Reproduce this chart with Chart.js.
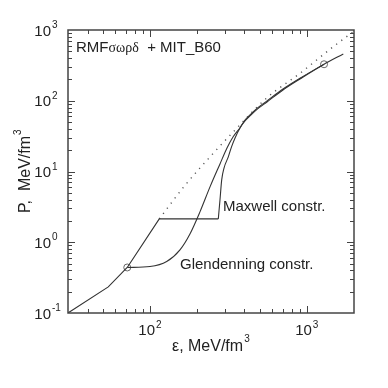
<!DOCTYPE html>
<html>
<head>
<meta charset="utf-8">
<script src="https://cdn.jsdelivr.net/npm/chart.js@4.4.1/dist/chart.umd.min.js"></script>
<style>
  html, body { margin: 0; padding: 0; background: #fff; }
  #wrap { width: 388px; height: 388px; position: relative; }
</style>
</head>
<body>
<div id="wrap"><canvas id="grafico"></canvas></div>
<script>
// ---- dados ----
// ramo hadronico abaixo do primeiro circulo
const hadronE = [30, 54.2, 71.6];
const hadronP = [0.1, 0.234, 0.44];

// construcao de Maxwell: trecho reto (hadron -> patamar)
const maxStepE = [71.6, 114.6, 272.7];
const maxStepP = [0.44, 2.14, 2.14];
// construcao de Maxwell: subida e fase de quarks
const maxwellE = [272.7, 279.5, 286.6, 296.5, 315.8, 331.1, 348.7, 375, 403.6, 434.3, 481.4, 557.5, 705, 904.8, 1288, 1709];
const maxwellP = [2.14, 3.97, 7.61, 11.2, 16.1, 22.3, 29.8, 41.3, 51.8, 61.0, 75.4, 96.2, 142, 203, 328, 458];

// construcao de Glendenning
const glendE = [71.6, 100, 127.8, 155.3, 179.8, 208.3, 241.4, 279.5, 309.8, 338.3, 375, 403.6, 434.3, 481.4, 557.5, 705, 904.8, 1288];
const glendP = [0.44, 0.454, 0.534, 0.781, 1.31, 2.69, 6.06, 12.8, 21.5, 30.8, 41.6, 53.4, 63.1, 78.0, 99.6, 146.3, 208, 328];

// continuacao hadronica (pontilhada)
const dottedE = [114.6, 164.8, 253.3, 339.9, 555, 904.8, 1476, 1980];
const dottedP = [2.14, 6.12, 18.1, 36.3, 109.5, 244.5, 581, 946];

// circulos abertos
const markE = [71.6, 1288];
const markP = [0.44, 328];

// eixos
const xMin = 30, xMax = 2000;
const yMin = 0.1, yMax = 1000;
const xMajor = [2, 3];          // expoentes com rotulo
const yMajor = [-1, 0, 1, 2, 3];

const pts = (xs, ys) => xs.map((x, i) => ({ x, y: ys[i] }));

const COR = '#333';
const FONTE = '"Liberation Sans", Arial, sans-serif';

// ---- moldura, marcas e textos ----
const desenhoExtra = {
  id: 'desenhoExtra',
  afterDraw(chart) {
    const { ctx, chartArea: a, scales: { x, y } } = chart;
    ctx.save();

    // moldura
    ctx.strokeStyle = '#444';
    ctx.lineWidth = 1.5;
    ctx.strokeRect(a.left, a.top, a.right - a.left, a.bottom - a.top);

    // marcas x (baixo e cima, para dentro)
    ctx.lineWidth = 1;
    ctx.beginPath();
    for (let e = 1; e <= 3; e++) {
      for (let m = 1; m <= 9; m++) {
        const v = m * Math.pow(10, e);
        if (v <= xMin || v >= xMax) continue;
        const px = Math.round(x.getPixelForValue(v)) + 0.5;
        const len = m === 1 ? 7 : 4;
        ctx.moveTo(px, a.bottom); ctx.lineTo(px, a.bottom - len);
        ctx.moveTo(px, a.top); ctx.lineTo(px, a.top + len);
      }
    }
    // marcas y (esquerda e direita)
    for (let e = -1; e <= 2; e++) {
      for (let m = 1; m <= 9; m++) {
        const v = m * Math.pow(10, e);
        if (v <= yMin || v >= yMax) continue;
        const py = Math.round(y.getPixelForValue(v)) + 0.5;
        const len = m === 1 ? 7 : 4;
        ctx.moveTo(a.left, py); ctx.lineTo(a.left + len, py);
        ctx.moveTo(a.right, py); ctx.lineTo(a.right - len, py);
      }
    }
    ctx.stroke();

    ctx.fillStyle = '#222';
    // rotulos x
    xMajor.forEach(e => {
      const px = x.getPixelForValue(Math.pow(10, e));
      ctx.font = '15px ' + FONTE;
      const w1 = ctx.measureText('10').width;
      ctx.font = '10px ' + FONTE;
      const w2 = ctx.measureText(String(e)).width;
      const x0 = px - (w1 + w2 + 1) / 2;
      ctx.font = '15px ' + FONTE;
      ctx.textAlign = 'left';
      ctx.fillText('10', x0, a.bottom + 22);
      ctx.font = '10px ' + FONTE;
      ctx.fillText(String(e), x0 + w1 + 1, a.bottom + 15);
    });
    // rotulos y
    yMajor.forEach(e => {
      const py = y.getPixelForValue(Math.pow(10, e));
      ctx.font = '15px ' + FONTE;
      ctx.textAlign = 'right';
      ctx.fillText('10', 51, py + 5.5);
      ctx.font = '10px ' + FONTE;
      ctx.textAlign = 'left';
      ctx.fillText(e < 0 ? '-' + Math.abs(e) : String(e), 52, py - 2);
    });

    // titulo x
    ctx.font = '16px ' + FONTE;
    ctx.textAlign = 'left';
    ctx.fillText('\u03b5, MeV/fm', 172, 351);
    const wx = ctx.measureText('\u03b5, MeV/fm').width;
    ctx.font = '10px ' + FONTE;
    ctx.fillText('3', 172 + wx + 1, 342);

    // titulo y
    ctx.save();
    ctx.translate(30, 213);
    ctx.rotate(-Math.PI / 2);
    ctx.font = '16px ' + FONTE;
    ctx.fillText('P,  MeV/fm', 0, 0);
    const wy = ctx.measureText('P,  MeV/fm').width;
    ctx.font = '10px ' + FONTE;
    ctx.fillText('3', wy + 1, -9);
    ctx.restore();

    // legenda superior
    ctx.font = '15px ' + FONTE;
    ctx.fillText('RMF', 76, 52);
    let w = ctx.measureText('RMF').width;
    ctx.font = '14px "Liberation Serif", "Times New Roman", serif';
    ctx.fillText('\u03c3\u03c9\u03c1\u03b4', 76 + w, 52);
    w += ctx.measureText('\u03c3\u03c9\u03c1\u03b4').width;
    ctx.font = '15px ' + FONTE;
    ctx.fillText('  + MIT_B60', 76 + w, 52);

    // rotulos das curvas
    ctx.fillText('Maxwell constr.', 223, 210.5);
    ctx.fillText('Glendenning constr.', 180, 269);

    ctx.restore();
  }
};

const linha = (label, data, extra) => Object.assign({
  label, data,
  borderColor: COR,
  borderWidth: 1.1,
  pointRadius: 0,
  cubicInterpolationMode: 'monotone',
  fill: false
}, extra);

new Chart(document.getElementById('grafico'), {
  type: 'line',
  data: {
    datasets: [
      linha('hadron', pts(hadronE, hadronP), { cubicInterpolationMode: 'default', tension: 0 }),
      linha('Maxwell patamar', pts(maxStepE, maxStepP), { cubicInterpolationMode: 'default', tension: 0 }),
      linha('Maxwell', pts(maxwellE, maxwellP), {}),
      linha('Glendenning', pts(glendE, glendP), {}),
      linha('hadronic', pts(dottedE, dottedP), { borderColor: '#555', borderWidth: 1.4, borderDash: [1.2, 5.2] }),
      {
        label: 'marks', data: pts(markE, markP), showLine: false,
        pointRadius: 3.5, pointBackgroundColor: '#fff', pointBorderColor: '#666', pointBorderWidth: 1
      }
    ]
  },
  options: {
    responsive: true,
    maintainAspectRatio: false,
    animation: false,
    layout: { padding: { left: 68, top: 30, right: 34, bottom: 75 } },
    plugins: { legend: { display: false }, tooltip: { enabled: false } },
    scales: {
      x: { type: 'logarithmic', min: xMin, max: xMax, display: false },
      y: { type: 'logarithmic', min: yMin, max: yMax, display: false }
    }
  },
  plugins: [desenhoExtra]
});
</script>
</body>
</html>
